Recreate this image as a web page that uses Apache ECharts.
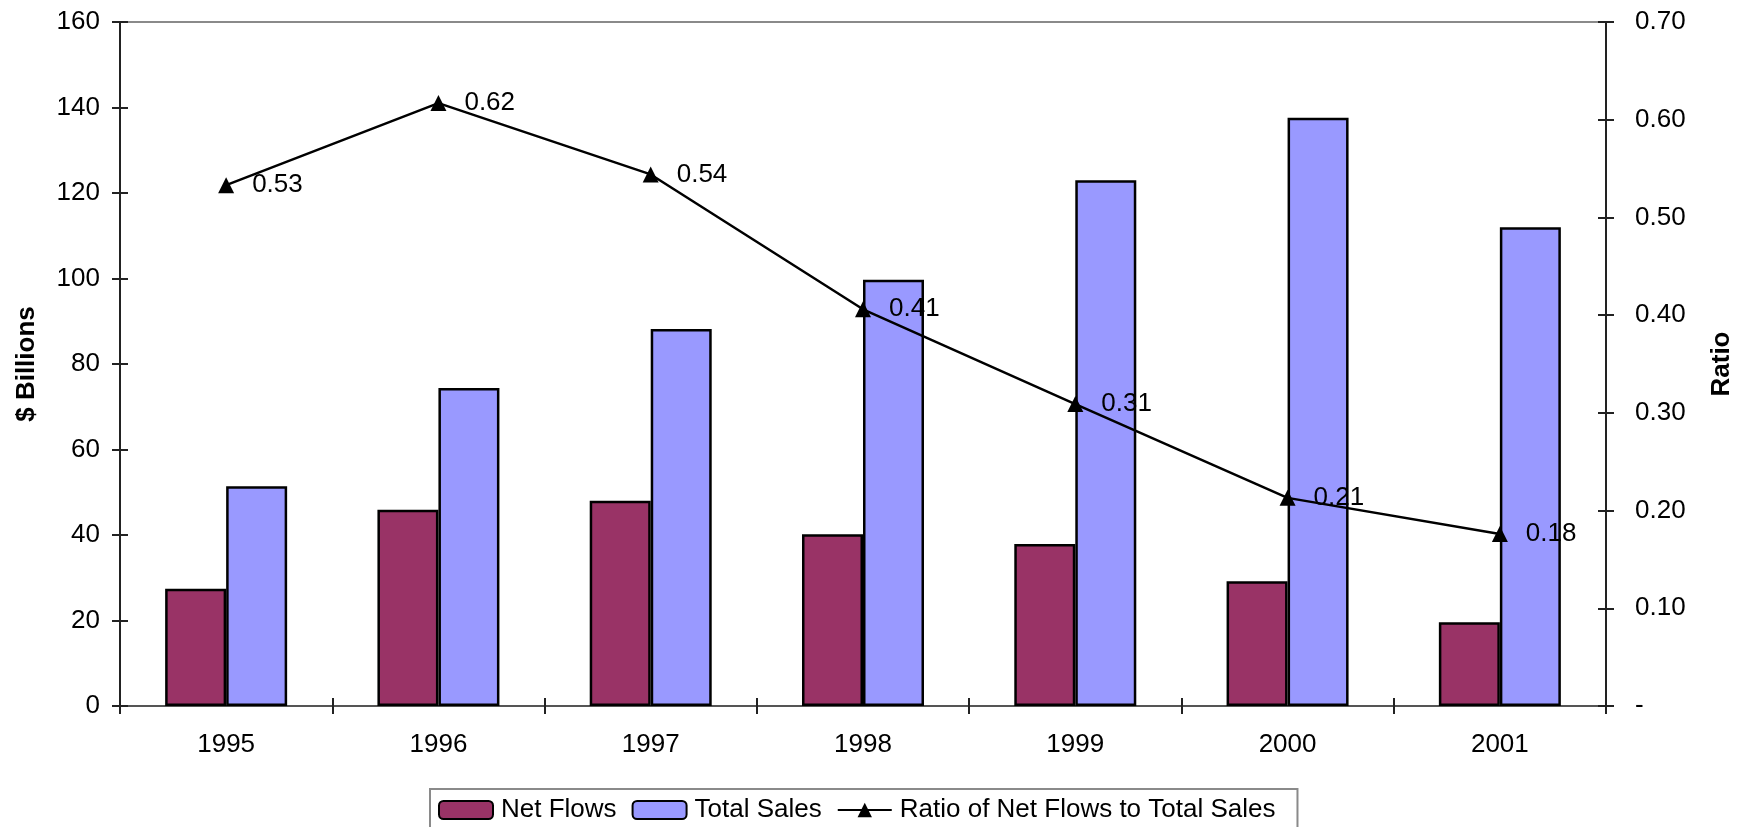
<!DOCTYPE html>
<html>
<head>
<meta charset="utf-8">
<script src="https://cdn.jsdelivr.net/npm/echarts@6/dist/echarts.min.js"></script>
<style>
html,body{margin:0;padding:0;background:#fff;}
#chart{width:1748px;height:827px;}
</style>
</head>
<body>
<div id="chart"></div>
<script>
const years = ['1995','1996','1997','1998','1999','2000','2001'];
const netFlows = [27.4, 45.9, 48.0, 40.2, 37.9, 29.2, 19.6];
const totalSales = [51.4, 74.4, 88.2, 99.7, 123.0, 137.6, 112.0];
const ratio = [0.533, 0.617, 0.544, 0.406, 0.309, 0.213, 0.176];
const leftTicks = [0, 20, 40, 60, 80, 100, 120, 140, 160];
const rightTicks = ['-', '0.10', '0.20', '0.30', '0.40', '0.50', '0.60', '0.70'];

const FONT = "'Liberation Sans', Arial, sans-serif";
const chart = echarts.init(document.getElementById('chart'), null, {renderer: 'canvas'});

const tickStyle = {color: '#222', width: 2};
const option = {
  backgroundColor: '#fff',
  animation: false,
  textStyle: {fontFamily: FONT, color: '#000'},
  grid: {left: 120, right: 142, top: 22, bottom: 121, show: true, borderColor: '#8a8a8a', borderWidth: 2, backgroundColor: 'transparent'},
  legend: {
    left: 430, top: 789,
    padding: [8, 22, 30, 8],
    itemGap: 15, itemWidth: 54, itemHeight: 18,
    borderColor: '#8a8a8a', borderWidth: 2, borderRadius: 0,
    backgroundColor: '#fff',
    textStyle: {fontFamily: FONT, fontSize: 26, color: '#000', padding: [0, 0, 0, 3]},
    data: ['Net Flows', 'Total Sales', 'Ratio of Net Flows to Total Sales']
  },
  xAxis: [{
    type: 'category', data: years, boundaryGap: true,
    axisLine: {lineStyle: {color: '#555', width: 2}},
    axisTick: {show: true, length: 8, lineStyle: tickStyle, alignWithLabel: false},
    axisLabel: {fontFamily: FONT, fontSize: 26, color: '#000', margin: 26}
  }, {
    type: 'category', data: years, position: 'bottom', boundaryGap: true,
    axisLine: {show: false},
    axisTick: {show: true, inside: true, length: 8, lineStyle: tickStyle},
    axisLabel: {show: false}
  }],
  yAxis: [{
    type: 'value', min: leftTicks[0], max: leftTicks[leftTicks.length - 1], interval: 20, position: 'left',
    name: '$ Billions', nameLocation: 'middle', nameGap: 80, nameRotate: 90,
    nameTextStyle: {fontFamily: FONT, fontSize: 26, fontWeight: 'bold', color: '#000'},
    axisLine: {show: true, lineStyle: {color: '#222', width: 2}},
    axisTick: {show: true, length: 8, lineStyle: tickStyle},
    axisLabel: {fontFamily: FONT, fontSize: 26, color: '#000', margin: 20},
    splitLine: {show: false}
  }, {
    type: 'value', min: 0, max: 0.7, interval: 0.1, position: 'right',
    name: 'Ratio', nameLocation: 'middle', nameGap: 103, nameRotate: 90,
    nameTextStyle: {fontFamily: FONT, fontSize: 26, fontWeight: 'bold', color: '#000'},
    axisLine: {show: true, lineStyle: {color: '#222', width: 2}},
    axisTick: {show: true, length: 8, lineStyle: tickStyle},
    axisLabel: {fontFamily: FONT, fontSize: 26, color: '#000', margin: 29,
      formatter: function (v) { return rightTicks[Math.round(v * 10)]; }},
    splitLine: {show: false}
  }, {
    type: 'value', min: 0, max: 160, interval: 20, position: 'left',
    axisLine: {show: false}, axisLabel: {show: false}, splitLine: {show: false},
    axisTick: {show: true, inside: true, length: 8, lineStyle: tickStyle}
  }, {
    type: 'value', min: 0, max: 0.7, interval: 0.1, position: 'right',
    axisLine: {show: false}, axisLabel: {show: false}, splitLine: {show: false},
    axisTick: {show: true, inside: true, length: 8, lineStyle: tickStyle}
  }],
  series: [{
    name: 'Net Flows', type: 'bar', data: netFlows, barWidth: 61, barGap: '0%',
    itemStyle: {color: '#993366', borderColor: '#000', borderWidth: 2.5}
  }, {
    name: 'Total Sales', type: 'bar', data: totalSales, barWidth: 61, barGap: '0%',
    itemStyle: {color: '#9999FF', borderColor: '#000', borderWidth: 2.5}
  }, {
    name: 'Ratio of Net Flows to Total Sales', type: 'line', yAxisIndex: 1, data: ratio,
    symbol: 'triangle', symbolSize: 16,
    lineStyle: {color: '#000', width: 2.5},
    itemStyle: {color: '#000'},
    label: {show: true, position: 'right', distance: 18, fontFamily: FONT, fontSize: 26, color: '#000',
      formatter: function (p) { return p.value.toFixed(2); }},
    z: 5
  }]
};
chart.setOption(option);
</script>
</body>
</html>
